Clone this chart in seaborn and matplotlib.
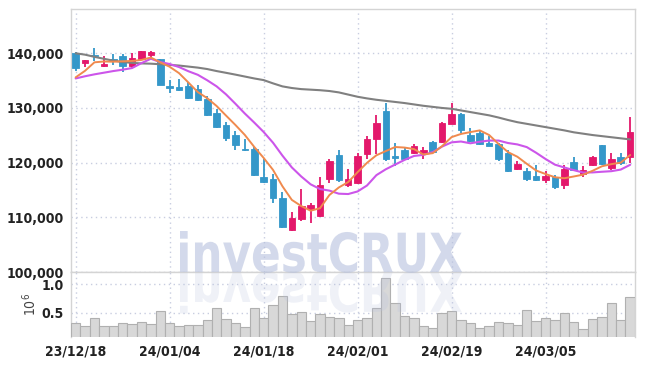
import numpy as np
import matplotlib
matplotlib.use("Agg")
import matplotlib.pyplot as plt
import seaborn as sns
from matplotlib.textpath import TextPath
from matplotlib.patches import PathPatch
from matplotlib.font_manager import FontProperties
from matplotlib.transforms import Affine2D
from matplotlib.ticker import FuncFormatter

# daily candles, 2023-12-18 .. 2024-03-18
opens = [140000, 138300, 139700, 137750, 138950, 139500, 137700, 138900, 139750, 138900,
         134000, 133800, 134000, 133400, 131600, 129050, 126850, 125050, 122550, 122450,
         117350, 117050, 113550, 107750, 109750, 111500, 110250, 117100, 121350, 116000,
         116350, 121550, 124300, 129450, 121200, 122300, 121750, 121700, 123750, 123750,
         127150, 128900, 125050, 125450, 123550, 123450, 121750, 118850, 118450, 117500,
         116750, 117400, 115850, 120050, 118000, 119550, 123200, 119100, 120950, 121050]
highs = [140200, 138850, 140900, 139500, 139800, 139800, 140000, 140450, 140350, 139000,
         135100, 135250, 134700, 134200, 132200, 129800, 127500, 125750, 124400, 122800,
         120750, 118000, 114650, 111000, 115250, 112700, 117400, 120600, 122300, 118750,
         121700, 124850, 128800, 130850, 123650, 122900, 123500, 122800, 124000, 127500,
         130850, 129100, 126400, 125700, 124850, 123600, 122400, 120250, 119100, 119600,
         118450, 117700, 119550, 121050, 119400, 121150, 123300, 121700, 121700, 128400]
lows = [136800, 137550, 138500, 137550, 137850, 136500, 137250, 138800, 138900, 134250,
        132800, 133100, 131600, 131300, 128500, 126400, 124000, 122400, 122150, 117600,
        116200, 112700, 108000, 107500, 109300, 108950, 110000, 116300, 116500, 115550,
        116100, 120650, 121550, 120300, 119350, 120500, 121500, 120650, 121700, 123600,
        127000, 125350, 123800, 123300, 123000, 120300, 118200, 118600, 116700, 116700,
        116300, 115200, 115150, 118400, 117400, 119400, 119500, 118600, 119550, 119950]
closes = [137300, 138800, 139500, 138000, 138700, 137700, 139100, 140400, 140250, 134250,
          133700, 133250, 131800, 131500, 128700, 126550, 124500, 123200, 122400, 117750,
          116500, 113550, 108250, 109900, 112150, 112200, 115850, 120300, 116800, 117100,
          121250, 124400, 127200, 120650, 120800, 120750, 123000, 122250, 121900, 127300,
          128900, 125900, 123950, 123450, 123050, 120700, 118500, 119700, 117000, 116900,
          117500, 115550, 118800, 118600, 118600, 121000, 119700, 120750, 119950, 125600]
# volume, millions of shares
volume = [0.313, 0.266, 0.401, 0.266, 0.266, 0.313, 0.301, 0.330, 0.301, 0.524,
          0.313, 0.266, 0.285, 0.285, 0.366, 0.577, 0.383, 0.313, 0.242, 0.577,
          0.407, 0.636, 0.788, 0.477, 0.506, 0.348, 0.471, 0.424, 0.407, 0.283,
          0.366, 0.407, 0.577, 1.105, 0.665, 0.442, 0.401, 0.260, 0.225, 0.489,
          0.524, 0.366, 0.313, 0.225, 0.260, 0.330, 0.313, 0.283, 0.542, 0.348,
          0.401, 0.366, 0.489, 0.330, 0.207, 0.383, 0.418, 0.665, 0.366, 0.771]
# moving averages
ma5 = [135600, 136800, 138350, 138500, 138460, 138540, 138600, 138780, 139230, 138340,
       137540, 136370, 134650, 132900, 131790, 130360, 128610, 126890, 125070, 122880,
       120870, 118680, 115690, 113190, 112070, 111210, 111670, 114080, 115460, 116450,
       118260, 119970, 121350, 122120, 122860, 122760, 122480, 121490, 121740, 123040,
       124670, 125250, 125590, 125900, 125050, 123410, 121930, 121080, 119790, 118560,
       117920, 117330, 117150, 117470, 117810, 118510, 119340, 119730, 120000, 121400]
ma10 = [135400, 135800, 136150, 136450, 136750, 137000, 137300, 138200, 139000, 138400,
        138040, 137485, 136715, 136065, 135065, 133950, 132490, 130770, 128985, 127335,
        125615, 123645, 121290, 119130, 117475, 116040, 115175, 114885, 114325, 114260,
        114735, 115820, 117715, 118790, 119655, 120510, 121225, 121420, 121930, 122950,
        123715, 123865, 123540, 123820, 124045, 124040, 123590, 123335, 122845, 121805,
        120665, 119630, 119115, 118630, 118185, 118215, 118335, 118440, 118735, 119605]
ma60 = [140000, 139750, 139350, 139000, 138650, 138400, 138250, 138150, 138100, 138000,
        137880, 137760, 137570, 137380, 137120, 136750, 136430, 136100, 135750, 135400,
        135100, 134500, 133950, 133650, 133450, 133350, 133250, 133100, 132850, 132450,
        132050, 131750, 131500, 131300, 131100, 130900, 130650, 130400, 130200, 130000,
        129850, 129550, 129250, 128950, 128650, 128250, 127800, 127400, 127100, 126800,
        126500, 126200, 125900, 125550, 125300, 125050, 124850, 124650, 124450, 124250]
tick_pos = [0, 10, 20, 30, 40, 50]
tick_labels = ["23/12/18", "24/01/04", "24/01/18", "24/02/01", "24/02/19", "24/03/05"]

UP, DOWN = "#e3186b", "#3497c9"
GRID = "#c8cde0"
SPINE = "#d4d4d4"

sns.set_theme(style="white")
plt.rcParams['font.family'] = ['DejaVu Sans']
plt.rcParams['font.stretch'] = 'condensed'

fig = plt.figure(figsize=(6.45, 3.66), dpi=100)
ax1 = fig.add_axes([0.110, 0.2568, 0.875, 0.7186])
ax2 = fig.add_axes([0.110, 0.0779, 0.875, 0.1789], sharex=ax1)

x = np.arange(len(closes))
o, h, l, c = map(np.array, (opens, highs, lows, closes))
cols = np.where(c >= o, UP, DOWN)

# candles
ax1.vlines(x, l, h, colors=cols, lw=1.3, zorder=3)
ax1.bar(x, np.abs(c - o), bottom=np.minimum(o, c), width=0.7, color=cols,
        edgecolor=cols, linewidth=0.6, zorder=4)

# moving averages
sns.lineplot(x=x, y=ma60, color="#808080", lw=1.5, ax=ax1, zorder=5)
sns.lineplot(x=x, y=ma10, color="#cc55ea", lw=1.5, ax=ax1, zorder=5)
sns.lineplot(x=x, y=ma5, color="#f08a4e", lw=1.4, ax=ax1, zorder=6)

ax1.set_ylim(100000, 148100)
ax1.set_xlim(-0.5, 59.55)
ax1.set_yticks([100000, 110000, 120000, 130000, 140000])
ax1.yaxis.set_major_formatter(FuncFormatter(lambda v, p: f"{v:,.0f}"))
ax1.set_xticks(tick_pos)
ax1.tick_params(labelbottom=False, length=0, labelsize=10, labelcolor="#222222", pad=5)
for t in ax1.get_yticklabels():
    t.set_fontweight("bold")

# volume
ax2.bar(x, volume, width=1.0, color="#d8d8d8", edgecolor="#b0b0b0", linewidth=0.8, zorder=3)
ax2.set_ylim(0.065, 1.215)
ax2.set_yticks([0.5, 1.0])
ax2.set_yticklabels(["0.5", "1.0"])
ax2.set_xticks(tick_pos)
ax2.set_xticklabels(tick_labels)
ax2.tick_params(length=0, labelsize=10, labelcolor="#222222", pad=5)
for t in ax2.get_yticklabels() + ax2.get_xticklabels():
    t.set_fontweight("bold")
ax2.set_ylabel(r"$10^{6}$", fontsize=10, color="#444444")
ax2.yaxis.set_label_coords(-0.057, 0.5)

for ax in (ax1, ax2):
    ax.set_xlabel("")
    ax.grid(True, linestyle=(0, (1, 2.5)), color=GRID, lw=1.0, zorder=0)
    ax.set_axisbelow(True)
    for s in ax.spines.values():
        s.set_color(SPINE)
        s.set_linewidth(1.0)
ax2.spines["bottom"].set_visible(False)

# watermark with reflection
fp = FontProperties(family="DejaVu Sans", weight="bold", stretch="condensed")
tp = TextPath((0, 0), "investCRUX", size=100, prop=fp)
ext = tp.get_extents()
sx = 282 / ext.width
sy = 41 / ext.ymax
base = Affine2D().translate(-ext.x0, 0)
wm = PathPatch(tp, facecolor="#b7c1de", edgecolor="none", alpha=0.6,
               transform=base + Affine2D().scale(sx / 100, sy / 100).translate(1.80, 0.94)
               + fig.dpi_scale_trans)
wm_ref = PathPatch(tp, facecolor="#b7c1de", edgecolor="none", alpha=0.22,
                   transform=base + Affine2D().scale(sx / 100, -sy / 100).translate(1.80, 0.935)
                   + fig.dpi_scale_trans)
fig.add_artist(wm)
fig.add_artist(wm_ref)

fig.savefig("out.png", dpi=100)
